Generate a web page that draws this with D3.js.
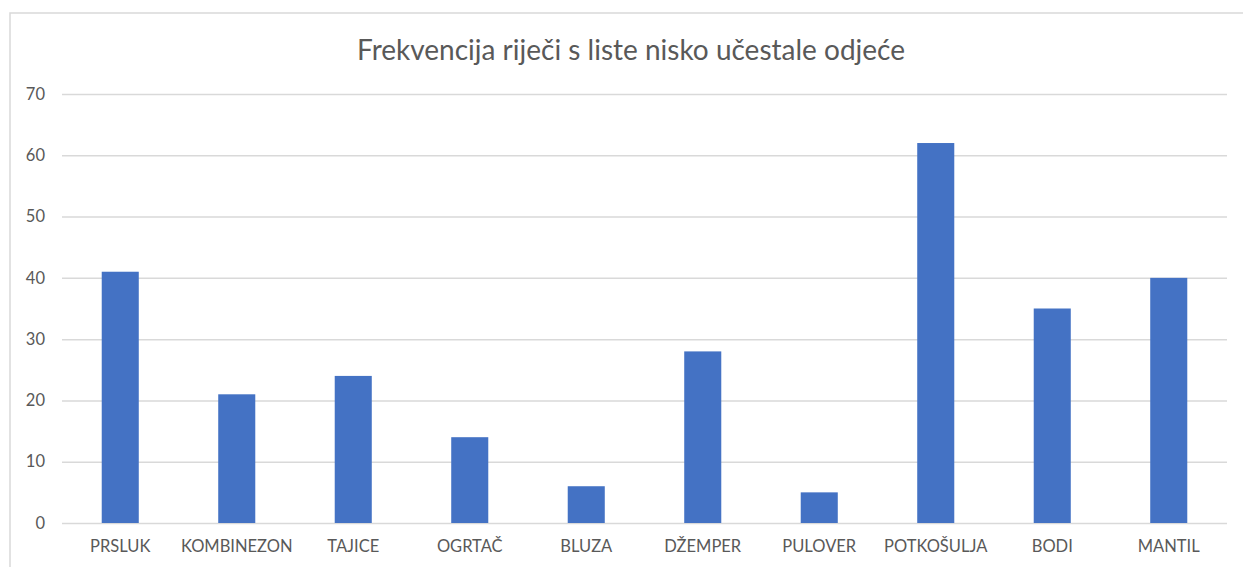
<!DOCTYPE html>
<html><head><meta charset="utf-8">
<script src="https://cdn.jsdelivr.net/npm/d3@7"></script>
<style>body{margin:0;background:#fff}svg{display:block}</style>
</head><body>
<script>
const categories = ["PRSLUK","KOMBINEZON","TAJICE","OGRTAČ","BLUZA","DŽEMPER","PULOVER","POTKOŠULJA","BODI","MANTIL"];
const values = [41,21,24,14,6,28,5,62,35,40];
const yTicks = [0,10,20,30,40,50,60,70];
const title = "Frekvencija riječi s liste nisko učestale odjeće";

(function(){
const W=1243,H=567;
const svg=d3.select("body").append("svg").attr("width",W).attr("height",H);
svg.append("rect").attr("x",10).attr("y",13).attr("width",1240).attr("height",600)
  .attr("fill","#fff").attr("stroke","#d9d9d9").attr("stroke-width",1.5);

const pl=62,pr=1227,pt=94,pb=523;
const x=d3.scaleBand().domain(categories).range([pl,pr]).paddingInner(0.682).paddingOuter(0.341);
const y=d3.scaleLinear().domain([0,70]).range([pb,pt]);

const font="Lato, 'Open Sans', sans-serif";
const yAxis=svg.append("g").attr("transform",`translate(${pl},0)`)
  .call(d3.axisLeft(y).tickValues(yTicks).tickSize(-(pr-pl)).tickPadding(17));
yAxis.select(".domain").remove();
yAxis.selectAll("line").attr("stroke","#d9d9d9").attr("stroke-width",1.5);
yAxis.selectAll("text").attr("fill","#595959").style("font-family",font).style("font-size","16.5px");

svg.append("g").selectAll("rect").data(values).join("rect")
  .attr("x",(d,i)=>x(categories[i])).attr("width",x.bandwidth())
  .attr("y",d=>y(d)).attr("height",d=>y(0)-y(d)).attr("fill","#4472c4");

const xAxis=svg.append("g").attr("transform",`translate(0,${pb})`)
  .call(d3.axisBottom(x).tickSize(0).tickPadding(17));
xAxis.select(".domain").remove();
xAxis.selectAll("text").attr("fill","#595959").style("font-family",font).style("font-size","16.5px");

svg.append("text").attr("x",631).attr("y",60).attr("text-anchor","middle")
  .attr("fill","#595959").style("font-family",font).style("font-size","28px").text(title);
})();
</script>
</body></html>
